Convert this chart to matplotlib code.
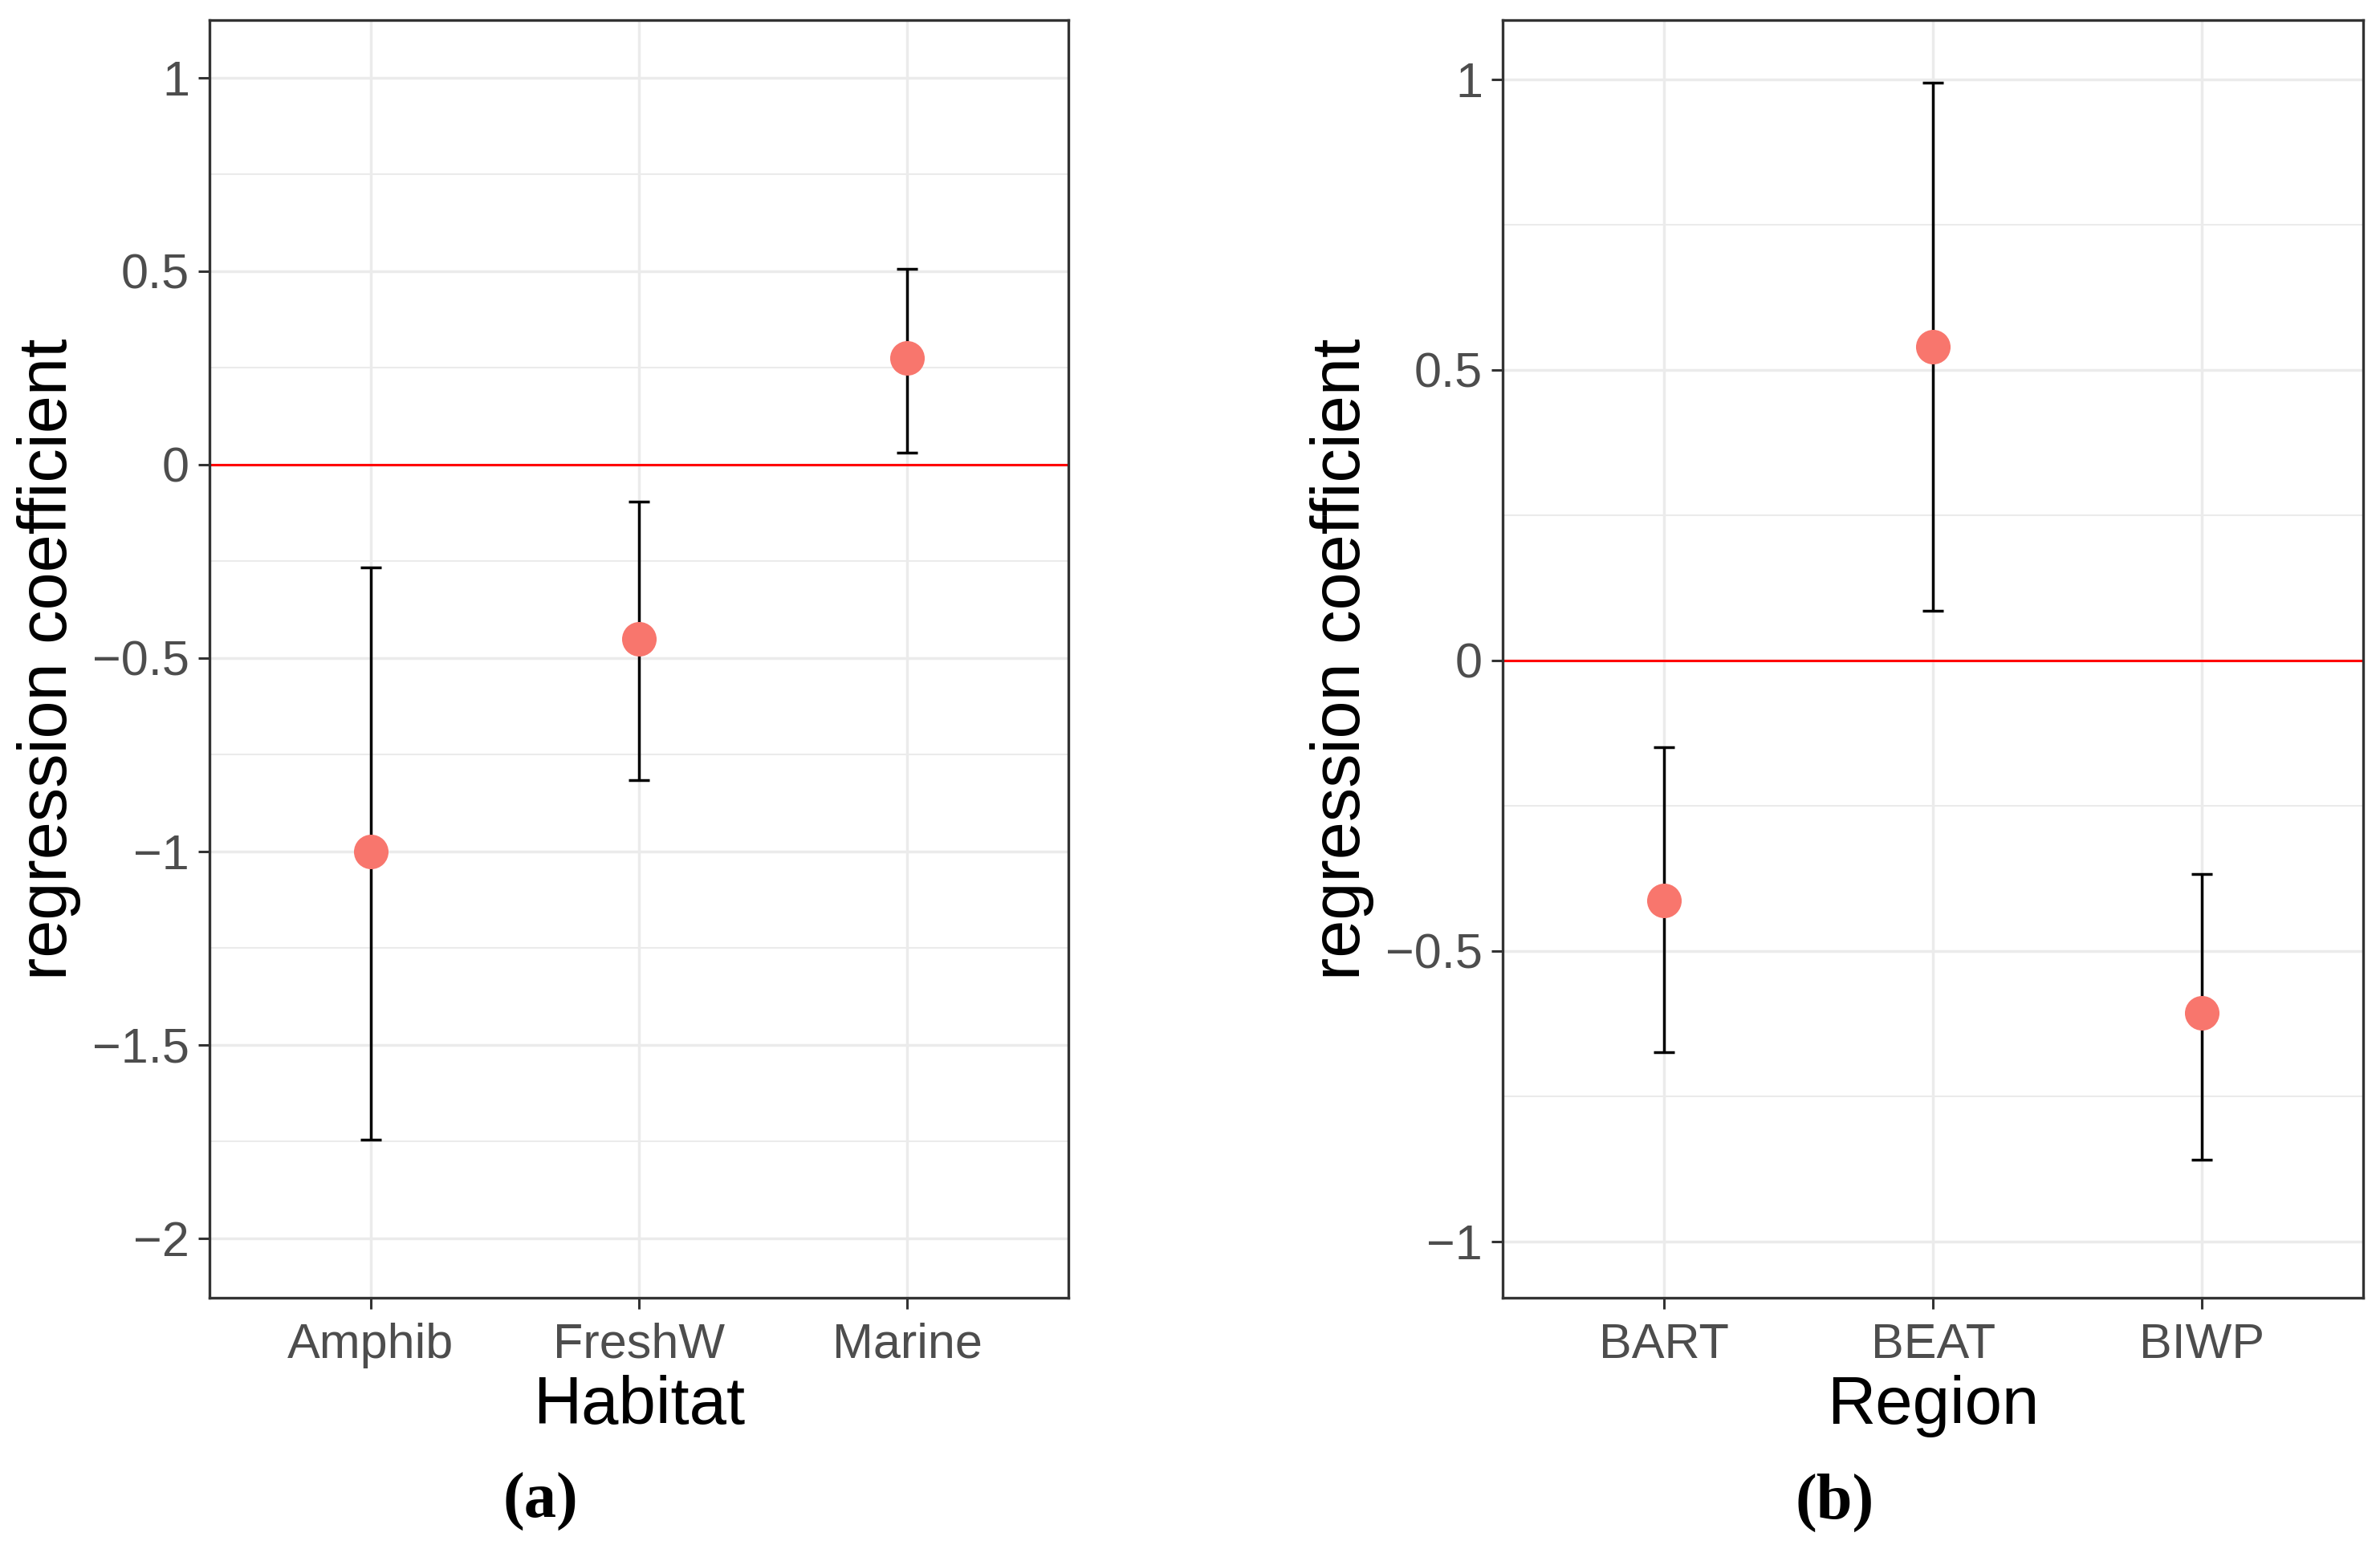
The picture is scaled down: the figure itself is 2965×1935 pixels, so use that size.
import matplotlib
matplotlib.use('Agg')
import matplotlib.pyplot as plt
import numpy as np

# panel (a): habitat
habitats = ['Amphib', 'FreshW', 'Marine']
hab_coef = [-1.00, -0.45, 0.275]
hab_low = [-1.745, -0.815, 0.03]
hab_high = [-0.265, -0.095, 0.507]

# panel (b): region
regions = ['BART', 'BEAT', 'BIWP']
reg_coef = [-0.413, 0.540, -0.606]
reg_low = [-0.674, 0.086, -0.859]
reg_high = [-0.149, 0.995, -0.368]

hab_yticks = [1, 0.5, 0, -0.5, -1, -1.5, -2]
hab_ylabels = ['1', '0.5', '0', '\u22120.5', '\u22121', '\u22121.5', '\u22122']
reg_yticks = [1, 0.5, 0, -0.5, -1]
reg_ylabels = ['1', '0.5', '0', '\u22120.5', '\u22121']

plt.rcParams['font.family'] = ['Liberation Sans', 'DejaVu Sans']

fig = plt.figure(figsize=(29.65, 19.35), dpi=100)
ax_a = fig.add_axes([0.0880, 0.1643, 0.3609, 0.8227])
ax_b = fig.add_axes([0.6314, 0.1643, 0.3616, 0.8227])


def draw_panel(ax, cats, coef, low, high, yticks, ylabels, ylim, xlab):
    x = np.arange(1, len(cats) + 1)
    coef = np.array(coef)
    err = [coef - np.array(low), np.array(high) - coef]
    # ggplot minor gridlines halfway between majors
    minors = [t + 0.25 for t in yticks[1:]]
    for m in minors:
        ax.axhline(m, color='#EBEBEB', lw=1.5, zorder=0)
    for t in yticks:
        ax.axhline(t, color='#EBEBEB', lw=2.5, zorder=0)
    for xi in x:
        ax.axvline(xi, color='#EBEBEB', lw=2.5, zorder=0)
    ax.axhline(0, color='#FF0000', lw=2.2, zorder=1)
    ax.errorbar(x, coef, yerr=err, fmt='none', ecolor='black', elinewidth=2.5,
                capsize=9.5, capthick=2.5, zorder=2)
    ax.plot(x, coef, 'o', color='#F8766D', markersize=31, markeredgewidth=0, zorder=3)
    ax.set_xlim(0.4, len(cats) + 0.6)
    ax.set_ylim(*ylim)
    ax.set_xticks(x)
    ax.set_xticklabels(cats)
    ax.set_yticks(yticks)
    ax.set_yticklabels(ylabels)
    ax.tick_params(axis='both', labelsize=44, labelcolor='#4D4D4D', color='#333333',
                   length=10, width=2.2)
    ax.tick_params(axis='x', pad=12)
    ax.tick_params(axis='y', pad=8)
    for s in ax.spines.values():
        s.set_color('#333333')
        s.set_linewidth(2.4)
    ax.set_xlabel(xlab, fontsize=60, color='black', labelpad=6)
    ax.set_ylabel('regression coefficient', fontsize=61, color='black', labelpad=10)


draw_panel(ax_a, habitats, hab_coef, hab_low, hab_high, hab_yticks, hab_ylabels,
           (-2.154, 1.149), 'Habitat')
draw_panel(ax_b, regions, reg_coef, reg_low, reg_high, reg_yticks, reg_ylabels,
           (-1.097, 1.102), 'Region')

fig.text(0.227, 0.0326, '(a)', ha='center', va='center', fontsize=58,
         fontweight='bold', family=['Liberation Serif', 'DejaVu Serif'])
fig.text(0.771, 0.0326, '(b)', ha='center', va='center', fontsize=58,
         fontweight='bold', family=['Liberation Serif', 'DejaVu Serif'])

fig.savefig('out.png', dpi=100, facecolor='white')
